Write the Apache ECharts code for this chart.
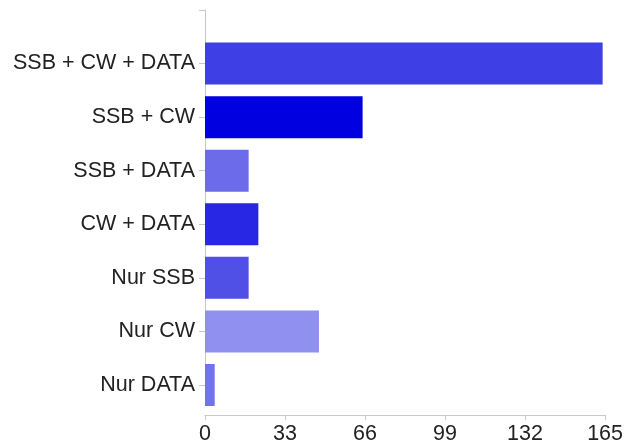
<!DOCTYPE html>
<html>
<head>
<meta charset="utf-8">
<script src="https://cdn.jsdelivr.net/npm/echarts@6/dist/echarts.min.js"></script>
<style>html,body{margin:0;padding:0;background:#fff;}#c{width:626px;height:445px;}</style>
</head>
<body>
<div id="c"></div>
<script>
// categories listed bottom-to-top; '' is the empty top slot of the axis
const categories = ['Nur DATA', 'Nur CW', 'Nur SSB', 'CW + DATA', 'SSB + DATA', 'SSB + CW', 'SSB + CW + DATA', ''];
const values = [4, 47, 18, 22, 18, 65, 164, null];
const barColors = ['#7272ee', '#9090f0', '#5050e6', '#2727e4', '#6c6cea', '#0000e0', '#3f3fe6', '#ffffff'];
const xTicks = [0, 33, 66, 99, 132, 165];

const chart = echarts.init(document.getElementById('c'), null, {renderer: 'canvas'});
chart.setOption({
  animation: false,
  grid: {left: 205, right: 19, top: 10, bottom: 58, containLabel: false},
  xAxis: {
    type: 'value',
    min: xTicks[0],
    max: xTicks[xTicks.length - 1],
    interval: xTicks[1] - xTicks[0],
    offset: 30,
    axisLine: {show: true, lineStyle: {color: '#c8c8c8', width: 1}},
    axisTick: {show: true, length: 5, lineStyle: {color: '#c8c8c8'}},
    splitLine: {show: false},
    axisLabel: {color: '#222', fontSize: 21.5, fontFamily: 'Liberation Sans, Arial, sans-serif', margin: 8}
  },
  yAxis: {
    type: 'category',
    data: categories,
    boundaryGap: false,
    axisLine: {show: true, lineStyle: {color: '#c8c8c8', width: 1}},
    axisTick: {show: true, length: 6, alignWithLabel: true, lineStyle: {color: '#c8c8c8'}},
    axisLabel: {color: '#222', fontSize: 21.5, fontFamily: 'Liberation Sans, Arial, sans-serif', margin: 10, interval: 0}
  },
  series: [{
    type: 'bar',
    clip: false,
    barWidth: 42,
    data: values.map((v, i) => ({value: v, itemStyle: {color: barColors[i]}})),
    itemStyle: {borderWidth: 0}
  }]
});
</script>
</body>
</html>
